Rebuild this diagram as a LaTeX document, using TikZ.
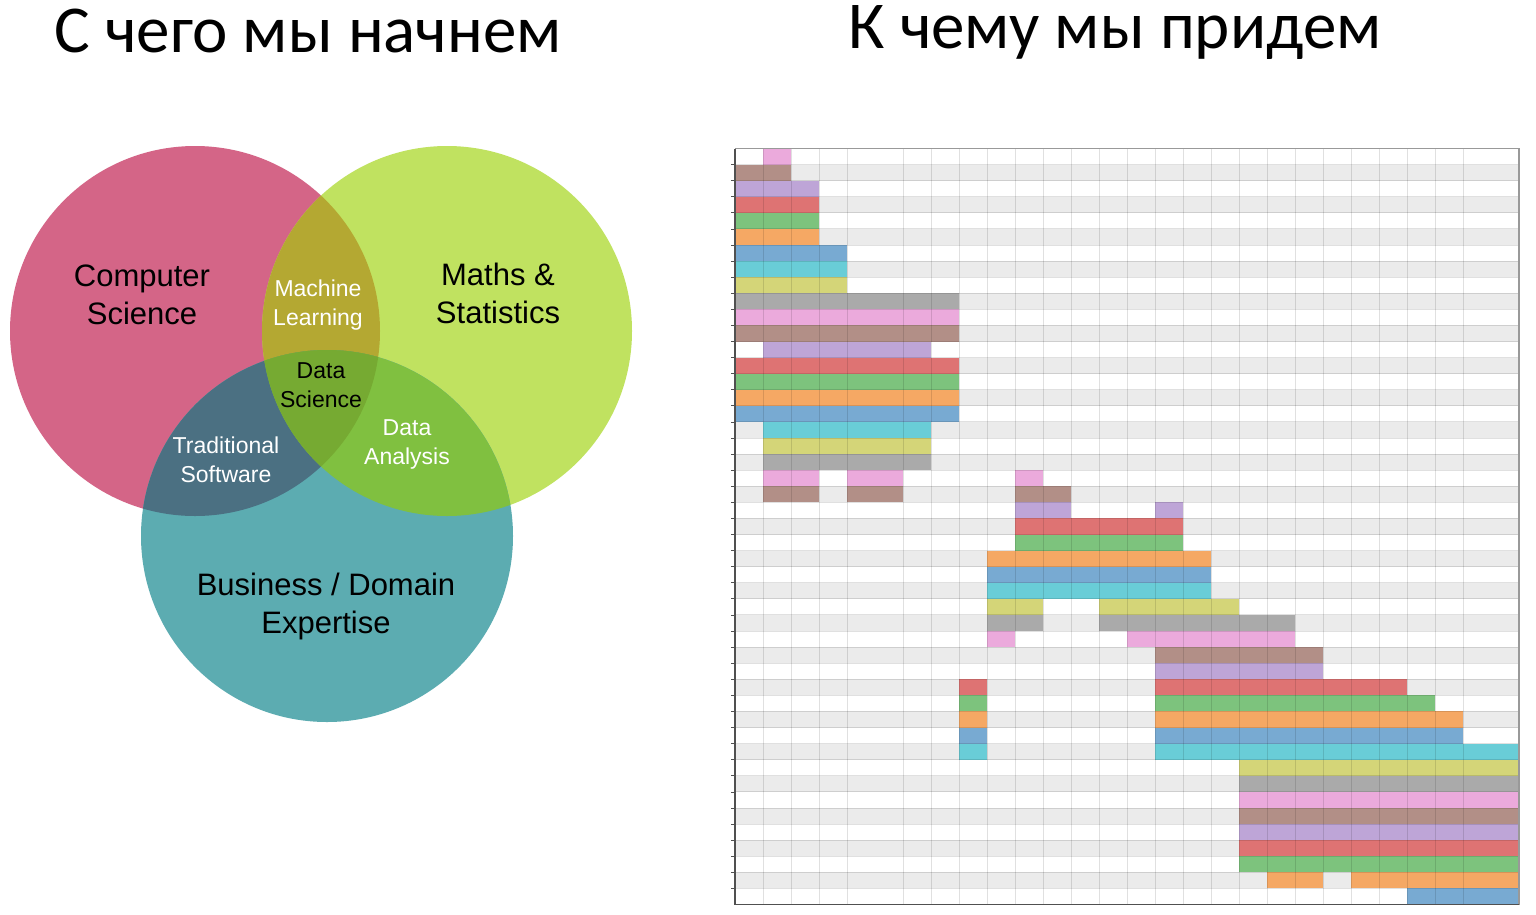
\documentclass[tikz,border=0pt]{standalone}
\usepackage{fontspec}
\setmainfont{Liberation Sans}
\newfontfamily\titlefont{Carlito}
\definecolor{vRed}{RGB}{212,101,135}
\definecolor{vGreen}{RGB}{192,226,96}
\definecolor{vTeal}{RGB}{92,172,177}
\definecolor{vRG}{RGB}{180,168,50}
\definecolor{vRT}{RGB}{75,112,130}
\definecolor{vGT}{RGB}{128,192,64}
\definecolor{vRGT}{RGB}{118,170,50}
\definecolor{c0}{RGB}{235,170,220}
\definecolor{c1}{RGB}{178,143,135}
\definecolor{c2}{RGB}{190,165,215}
\definecolor{c3}{RGB}{222,115,115}
\definecolor{c4}{RGB}{125,195,125}
\definecolor{c5}{RGB}{245,168,100}
\definecolor{c6}{RGB}{120,170,210}
\definecolor{c7}{RGB}{105,205,215}
\definecolor{c8}{RGB}{212,213,120}
\definecolor{c9}{RGB}{170,170,170}
\definecolor{stripe}{RGB}{235,235,235}
\definecolor{axisdark}{RGB}{80,80,80}
\begin{document}
\begin{tikzpicture}[x=1pt,y=-1pt,
  title/.style={font=\titlefont\fontsize{67}{75}\selectfont, anchor=base, inner sep=0},
  biglab/.style={font=\fontsize{31}{38}\selectfont, align=center, inner sep=0, text=black},
  smalllab/.style={font=\fontsize{23}{29}\selectfont, align=center, inner sep=0},
  gridline/.style={draw=black, opacity=0.12, line width=1pt}]
\useasboundingbox (0,0) rectangle (1536,914);
\fill[white] (0,0) rectangle (1536,914);

% titles
\node[title] (t1) at (308,52) {С чего мы начнем};
\node[title] (t2) at (1115,48) {К чему мы придем};

% Venn
\coordinate (R) at (195,331);
\coordinate (G) at (447,331);
\coordinate (T) at (327,536);
\fill[vRed] (R) circle (185pt);
\fill[vGreen] (G) circle (185pt);
\fill[vTeal] (T) circle (186pt);
\begin{scope}\clip (R) circle (185pt); \fill[vRG] (G) circle (185pt);\end{scope}
\begin{scope}\clip (R) circle (185pt); \fill[vRT] (T) circle (186pt);\end{scope}
\begin{scope}\clip (G) circle (185pt); \fill[vGT] (T) circle (186pt);\end{scope}
\begin{scope}\clip (R) circle (185pt); \clip (G) circle (185pt); \fill[vRGT] (T) circle (186pt);\end{scope}

\node[biglab] (cs) at (142,294.5) {Computer\\Science};
\node[biglab] (ms) at (498,293.5) {Maths \&\\Statistics};
\node[biglab] (bd) at (326,606) {Business / Domain\\Expertise};
\node[smalllab, text=white] (ml) at (318,305.5) {Machine\\Learning};
\node[smalllab, text=black] (ds) at (321,385.5) {Data\\Science};
\node[smalllab, text=white] (ts) at (226,459.5) {Traditional\\Software};
\node[smalllab, text=white] (da) at (407,444) {Data\\Analysis};

% Gantt
\def\xo{735}\def\cw{28}\def\yo{148.5}\def\rh{16.085}
\foreach \r in {1,3,...,45} {
  \fill[stripe] (\xo,{\yo+\rh*\r}) rectangle ({\xo+\cw*28},{\yo+\rh*(\r+1)});
}
\foreach \r/\a/\b in {0/1/2, 1/0/2, 2/0/3, 3/0/3, 4/0/3, 5/0/3, 6/0/4, 7/0/4, 8/0/4,
  9/0/8, 10/0/8, 11/0/8, 12/1/7, 13/0/8, 14/0/8, 15/0/8, 16/0/8, 17/1/7, 18/1/7, 19/1/7,
  20/1/3, 20/4/6, 20/10/11, 21/1/3, 21/4/6, 21/10/12, 22/10/12, 22/15/16,
  23/10/16, 24/10/16, 25/9/17, 26/9/17, 27/9/17, 28/9/11, 28/13/18,
  29/9/11, 29/13/20, 30/9/10, 30/14/20, 31/15/21, 32/15/21,
  33/8/9, 33/15/24, 34/8/9, 34/15/25, 35/8/9, 35/15/26, 36/8/9, 36/15/26, 37/8/9, 37/15/28,
  38/18/28, 39/18/28, 40/18/28, 41/18/28, 42/18/28, 43/18/28, 44/18/28,
  45/19/21, 45/22/28, 46/24/28} {
  \pgfmathtruncatemacro\ci{mod(\r,10)}
  \fill[c\ci] ({\xo+\cw*\a},{\yo+\rh*\r}) rectangle ({\xo+\cw*\b},{\yo+\rh*(\r+1)});
}
\foreach \k in {1,2,3,4,6,7,...,26} {
  \draw[gridline] ({\xo+\cw*\k},\yo) -- ({\xo+\cw*\k},{\yo+\rh*47});
}
\foreach \r in {1,...,46} {
  \draw[gridline] (\xo,{\yo+\rh*\r}) -- ({\xo+\cw*28},{\yo+\rh*\r});
  \draw[axisdark, line width=0.8pt] ({\xo-4},{\yo+\rh*\r}) -- (\xo,{\yo+\rh*\r});
}
\draw[gray!80, line width=1.2pt] (\xo,\yo) -- ({\xo+\cw*28},\yo) -- ({\xo+\cw*28},{\yo+\rh*47});
\draw[axisdark, line width=1.5pt] (\xo,\yo) -- (\xo,{\yo+\rh*47}) -- ({\xo+\cw*28},{\yo+\rh*47});
\end{tikzpicture}
\end{document}
